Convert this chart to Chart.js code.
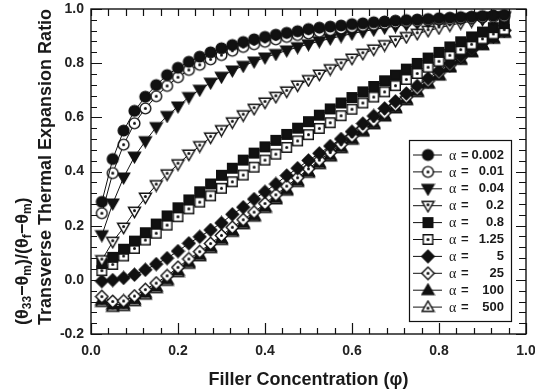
<!DOCTYPE html>
<html>
<head>
<meta charset="utf-8">
<script src="https://cdn.jsdelivr.net/npm/chart.js@4.4.1/dist/chart.umd.min.js"></script>
<style>
  html, body { margin: 0; padding: 0; background: #fff; }
  #wrap { width: 535px; height: 391px; position: relative; }
</style>
</head>
<body>
<div id="wrap"><canvas id="c" width="535" height="391"></canvas></div>
<script>
// ---- data ----
const phi = [0.025,0.05,0.075,0.1,0.125,0.15,0.175,0.2,0.225,0.25,0.275,0.3,0.325,0.35,0.375,0.4,0.425,0.45,0.475,0.5,
             0.525,0.55,0.575,0.6,0.625,0.65,0.675,0.7,0.725,0.75,0.775,0.8,0.825,0.85,0.875,0.9,0.925,0.95];

const alphaLabels = ['0.002','0.01','0.04','0.2','0.8','1.25','5','25','100','500'];

const a0002 = [0.288,0.446,0.551,0.624,0.676,0.719,0.756,0.783,0.805,0.824,0.840,0.855,0.867,0.878,0.888,0.897,0.905,0.912,0.918,0.926,
               0.931,0.935,0.939,0.944,0.947,0.951,0.954,0.957,0.959,0.961,0.963,0.966,0.968,0.970,0.972,0.974,0.976,0.978];
const a001  = [0.246,0.394,0.499,0.578,0.633,0.678,0.716,0.748,0.775,0.794,0.814,0.830,0.846,0.860,0.870,0.879,0.888,0.897,0.904,0.910,
               0.916,0.922,0.928,0.933,0.938,0.942,0.946,0.950,0.953,0.956,0.959,0.961,0.963,0.965,0.967,0.969,0.971,0.972];
const a004  = [0.165,0.282,0.378,0.455,0.512,0.564,0.605,0.640,0.675,0.702,0.728,0.750,0.773,0.790,0.806,0.821,0.834,0.847,0.859,0.870,
               0.881,0.891,0.900,0.909,0.917,0.924,0.931,0.937,0.943,0.948,0.953,0.957,0.961,0.964,0.967,0.970,0.972,0.974];
const a02   = [0.073,0.141,0.193,0.252,0.304,0.350,0.390,0.427,0.463,0.494,0.526,0.553,0.582,0.608,0.632,0.655,0.676,0.696,0.718,0.738,
               0.758,0.778,0.798,0.817,0.835,0.851,0.867,0.883,0.897,0.909,0.920,0.930,0.940,0.948,0.955,0.961,0.966,0.970];
const a08   = [0.060,0.083,0.113,0.143,0.174,0.206,0.236,0.266,0.295,0.325,0.354,0.386,0.412,0.442,0.468,0.491,0.515,0.537,0.560,0.584,
               0.608,0.631,0.653,0.673,0.694,0.714,0.735,0.756,0.778,0.799,0.819,0.840,0.860,0.879,0.897,0.915,0.931,0.946];
const a125  = [0.034,0.057,0.088,0.116,0.147,0.172,0.202,0.233,0.262,0.287,0.310,0.338,0.362,0.387,0.416,0.442,0.464,0.489,0.513,0.536,
               0.559,0.580,0.606,0.630,0.653,0.675,0.694,0.717,0.740,0.762,0.785,0.807,0.829,0.850,0.870,0.890,0.908,0.924];
const a5    = [-0.005,-0.001,0.007,0.019,0.037,0.058,0.080,0.106,0.135,0.159,0.184,0.210,0.242,0.268,0.298,0.325,0.354,0.385,0.412,0.441,
               0.467,0.494,0.520,0.547,0.577,0.605,0.633,0.659,0.688,0.716,0.744,0.772,0.800,0.826,0.852,0.877,0.900,0.922];
const a25   = [-0.062,-0.080,-0.078,-0.060,-0.036,-0.012,0.015,0.046,0.077,0.104,0.134,0.164,0.194,0.222,0.250,0.282,0.314,0.346,0.377,0.410,
               0.442,0.470,0.500,0.530,0.560,0.587,0.616,0.645,0.675,0.705,0.734,0.764,0.793,0.821,0.849,0.875,0.899,0.920];
const a100  = [-0.075,-0.092,-0.090,-0.072,-0.048,-0.025,0.002,0.034,0.065,0.092,0.122,0.152,0.182,0.210,0.238,0.270,0.302,0.334,0.366,0.400,
               0.432,0.460,0.490,0.521,0.551,0.578,0.607,0.637,0.667,0.697,0.727,0.757,0.787,0.815,0.843,0.869,0.893,0.915];
const a500  = [-0.082,-0.100,-0.097,-0.079,-0.055,-0.031,-0.004,0.028,0.059,0.087,0.117,0.147,0.177,0.205,0.233,0.265,0.297,0.329,0.361,0.395,
               0.427,0.455,0.486,0.517,0.547,0.574,0.603,0.633,0.663,0.693,0.724,0.754,0.784,0.812,0.840,0.866,0.890,0.912];

const seriesValues = [a0002, a001, a004, a02, a08, a125, a5, a25, a100, a500];
const xTickLabels = ['0.0','0.2','0.4','0.6','0.8','1.0'];
const yTickLabels = ['-0.2','0.0','0.2','0.4','0.6','0.8','1.0'];

// ---- marker images ----
const INK = '#111';
function marker(shape, filled, dot) {
  const s = 15, c = document.createElement('canvas');
  c.width = s; c.height = s;
  const g = c.getContext('2d');
  const m = s / 2;
  g.beginPath();
  if (shape === 'circle') {
    g.arc(m, m, 5.4, 0, Math.PI * 2);
  } else if (shape === 'square') {
    g.rect(m - 4.8, m - 4.8, 9.6, 9.6);
  } else if (shape === 'diamond') {
    g.moveTo(m, m - 6.2); g.lineTo(m + 6.2, m); g.lineTo(m, m + 6.2); g.lineTo(m - 6.2, m); g.closePath();
  } else if (shape === 'tdown') {
    g.moveTo(m - 6, m - 4.3); g.lineTo(m + 6, m - 4.3); g.lineTo(m, m + 6); g.closePath();
  } else if (shape === 'tup') {
    g.moveTo(m - 6, m + 4.3); g.lineTo(m + 6, m + 4.3); g.lineTo(m, m - 6); g.closePath();
  }
  g.fillStyle = filled ? INK : '#fff';
  g.fill();
  g.lineWidth = 1.4;
  g.strokeStyle = INK;
  g.stroke();
  if (dot) {
    g.beginPath();
    const dy = shape === 'tdown' ? -1 : (shape === 'tup' ? 1 : 0);
    g.arc(m, m + dy, 1.5, 0, Math.PI * 2);
    g.fillStyle = INK; g.fill();
  }
  return c;
}
const markers = [
  marker('circle', true, false),
  marker('circle', false, true),
  marker('tdown', true, false),
  marker('tdown', false, true),
  marker('square', true, false),
  marker('square', false, true),
  marker('diamond', true, false),
  marker('diamond', false, true),
  marker('tup', true, false),
  marker('tup', false, true)
];

const datasets = seriesValues.map((vals, i) => ({
  label: 'α = ' + alphaLabels[i],
  data: vals.map((v, k) => ({ x: phi[k], y: v })),
  borderColor: INK,
  borderWidth: 1,
  pointStyle: markers[i],
  pointRadius: 5,
  pointHoverRadius: 5,
  tension: 0,
  fill: false
}));

// ---- plugin: frame, inward ticks, axis titles, legend ----
const decor = {
  id: 'decor',
  afterDraw(chart) {
    const { ctx, chartArea: a, scales } = chart;
    const xs = scales.x, ys = scales.y;
    ctx.save();
    ctx.strokeStyle = INK;
    ctx.lineWidth = 1.4;
    ctx.strokeRect(a.left, a.top, a.right - a.left, a.bottom - a.top);
    ctx.lineWidth = 1.2;
    ctx.beginPath();
    for (let k = 0; k <= 25; k++) {
      const v = k * 0.04;
      const px = Math.round(xs.getPixelForValue(v)) + 0.5;
      const major = k % 5 === 0;
      ctx.moveTo(px, a.bottom); ctx.lineTo(px, a.bottom - (major ? 11 : 6));
      ctx.moveTo(px, a.top); ctx.lineTo(px, a.top + 7);
    }
    for (let k = 0; k <= 30; k++) {
      const v = -0.2 + k * 0.04;
      const py = Math.round(ys.getPixelForValue(v)) + 0.5;
      const major = k % 5 === 0;
      ctx.moveTo(a.left, py); ctx.lineTo(a.left + (major ? 11 : 6), py);
      ctx.moveTo(a.right, py); ctx.lineTo(a.right - (major ? 10 : 7), py);
    }
    ctx.stroke();

    // y-axis titles (rotated)
    ctx.fillStyle = '#1a1a1a';
    ctx.save();
    ctx.translate(46, 325);
    ctx.rotate(-Math.PI / 2);
    ctx.textAlign = 'left';
    ctx.textBaseline = 'middle';
    ctx.font = 'bold 18px "Liberation Sans", Arial, sans-serif';
    ctx.fillText('Transverse Thermal Expansion Ratio', 0, 0);
    ctx.restore();

    ctx.save();
    ctx.translate(23, 325);
    ctx.rotate(-Math.PI / 2);
    ctx.textAlign = 'left';
    ctx.textBaseline = 'middle';
    const segs = [['(θ', 0], ['33', 1], ['−θ', 0], ['m', 1], [')/(θ', 0], ['f', 1], ['−θ', 0], ['m', 1], [')', 0]];
    let xp = 0;
    for (const [t, sub] of segs) {
      ctx.font = sub ? 'bold 12px "Liberation Sans", Arial, sans-serif' : 'bold 18px "Liberation Sans", Arial, sans-serif';
      ctx.fillText(t, xp, sub ? 5 : 0);
      xp += ctx.measureText(t).width;
    }
    ctx.restore();

    // legend
    const lx0 = 409, lx1 = 511, ly0 = 140, ly1 = 321;
    ctx.fillStyle = '#fff';
    ctx.fillRect(lx0, ly0, lx1 - lx0, ly1 - ly0);
    ctx.lineWidth = 1.2;
    ctx.strokeStyle = INK;
    ctx.strokeRect(lx0 + 0.5, ly0 + 0.5, lx1 - lx0, ly1 - ly0);
    chart.data.datasets.forEach((ds, i) => {
      const yy = 155 + i * 16.9;
      ctx.beginPath();
      ctx.lineWidth = 1;
      ctx.moveTo(413, yy); ctx.lineTo(442, yy);
      ctx.stroke();
      const img = ds.pointStyle;
      ctx.drawImage(img, 428 - img.width / 2, yy - img.height / 2);
      ctx.fillStyle = '#1a1a1a';
      ctx.textBaseline = 'middle';
      ctx.textAlign = 'left';
      ctx.font = '14px "Liberation Serif", serif';
      ctx.fillText('α', 449, yy + 1);
      ctx.font = 'bold 13px "Liberation Sans", Arial, sans-serif';
      ctx.fillText('=', 461, yy);
      ctx.textAlign = 'right';
      ctx.fillText(alphaLabels[i], 504, yy);
    });
    ctx.restore();
  }
};

const tickFont = { family: '"Liberation Sans", Arial, sans-serif', size: 14, weight: 'bold' };

new Chart(document.getElementById('c'), {
  type: 'line',
  data: { datasets },
  plugins: [decor],
  options: {
    responsive: false,
    animation: false,
    events: [],
    layout: { padding: { top: 9, right: 9, left: 0, bottom: 0 } },
    plugins: { legend: { display: false }, tooltip: { enabled: false } },
    scales: {
      x: {
        type: 'linear', min: 0, max: 1.0,
        grid: { display: false, drawTicks: false },
        border: { display: false },
        ticks: {
          stepSize: 0.2, color: '#222', font: tickFont, padding: 9, maxRotation: 0,
          callback: (v) => { const i = Math.round(v / 0.2); return Math.abs(v - i * 0.2) < 1e-6 ? xTickLabels[i] : ''; }
        },
        title: {
          display: true, text: 'Filler Concentration (φ)', color: '#1a1a1a',
          font: { family: '"Liberation Sans", Arial, sans-serif', size: 18, weight: 'bold' },
          padding: { top: 10, bottom: 0 }
        },
        afterFit: (s) => { s.height = 57; s.paddingRight = 0; s.paddingLeft = 0; }
      },
      y: {
        type: 'linear', min: -0.2, max: 1.0,
        grid: { display: false, drawTicks: false },
        border: { display: false },
        ticks: {
          stepSize: 0.2, color: '#222', font: tickFont, padding: 7,
          callback: (v) => { const i = Math.round((v + 0.2) / 0.2); return Math.abs(v - (i * 0.2 - 0.2)) < 1e-6 ? yTickLabels[i] : ''; }
        },
        afterFit: (s) => { s.width = 91; s.paddingTop = 0; s.paddingBottom = 0; }
      }
    }
  }
});
</script>
</body>
</html>
